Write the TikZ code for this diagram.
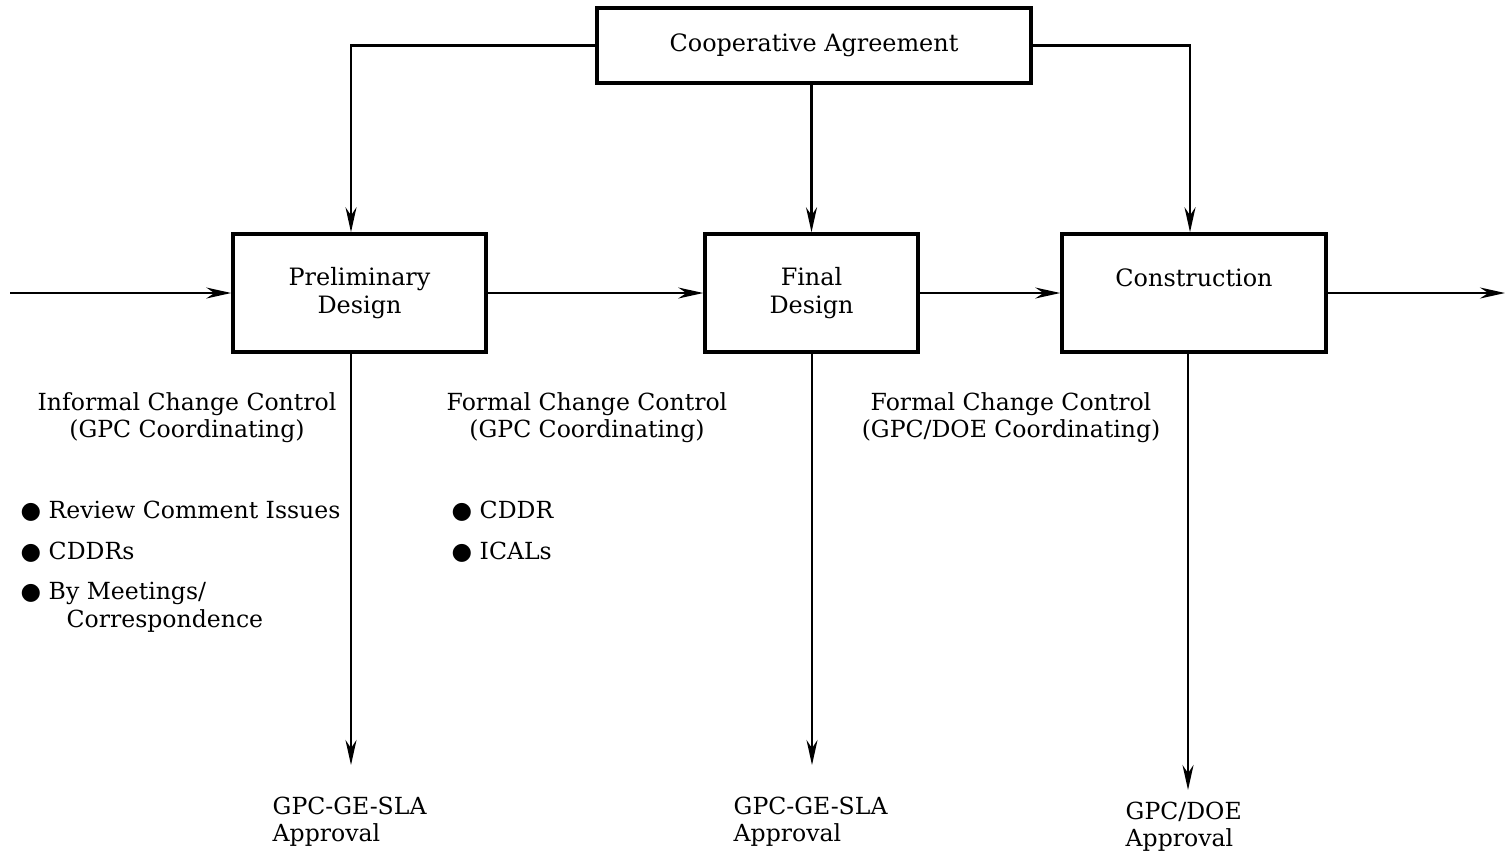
\documentclass[tikz,border=0pt]{standalone}
\usepackage{fontspec}
\setmainfont{DejaVu Serif}
\newfontfamily\dotfont{DejaVu Sans}
\usepackage{tikz}
\usetikzlibrary{arrows.meta}
\usetikzlibrary{positioning}

\newcommand{\bul}{{\dotfont\char"25CF}\ }

\tikzset{
  phase/.style={draw=black, line width=1pt, rectangle, minimum height=1.18cm,
                align=center, font=\fontsize{6.8}{8}\selectfont},
  note/.style={inner sep=0pt, font=\fontsize{6.7}{7.7}\selectfont},
  conn/.style={line width=0.65pt}
}

\begin{document}
\begin{tikzpicture}
\useasboundingbox (0,0) rectangle (15.05,-8.51);
%\draw[gray!30, step=1] (0,0) grid (15.05,-8.51);
\begin{scope}
    \node[phase, minimum width=4.34cm, minimum height=0.75cm] (coop) at (8.14,-0.455) {Cooperative Agreement};
    \node[phase, minimum width=2.53cm] (prelim) at (3.595,-2.93) {Preliminary\\Design};
    \node[phase, minimum width=2.13cm] (final) at (8.115,-2.93) {Final\\Design};
    \node[phase, minimum width=2.64cm, text depth=0.3cm] (constr) at (11.94,-2.93) {Construction};

    \coordinate (in) at (0.1,-2.93);
    \coordinate (out) at (15.05,-2.93);
    \coordinate (d1) at (3.51,-7.65);
    \coordinate (d2) at (8.12,-7.65);
    \coordinate (d3) at (11.88,-7.9);

    \node[note, align=center, anchor=north] (ctrl1) at (1.87,-3.92) {Informal Change Control\\(GPC Coordinating)};
    \node[note, align=center, anchor=north] (ctrl2) at (5.87,-3.92) {Formal Change Control\\(GPC Coordinating)};
    \node[note, align=center, anchor=north] (ctrl3) at (10.11,-3.92) {Formal Change Control\\(GPC/DOE Coordinating)};

    \node[note, anchor=base west] (b1) at (0.2,-5.18) {\bul Review Comment Issues};
    \node[note, anchor=base west] (b2) at (0.2,-5.59) {\bul CDDRs};
    % base of a two line node is the last line
    \node[note, align=left, anchor=base west] (b3) at (0.2,-6.27) {\bul By Meetings/\\\hspace{4.6mm}Correspondence};
    \node[note, anchor=base west] (c1) at (4.51,-5.18) {\bul CDDR};
    \node[note, anchor=base west] (c2) at (4.51,-5.59) {\bul ICALs};

    \node[note, align=left, anchor=north west] (appr1) at (2.72,-7.96) {GPC-GE-SLA\\Approval};
    \node[note, align=left, anchor=north west] (appr2) at (7.33,-7.96) {GPC-GE-SLA\\Approval};
    \node[note, align=left, anchor=north west] (appr3) at (11.25,-8.01) {GPC/DOE\\Approval};
\end{scope}

\begin{scope}[>={Stealth[length=2.5mm, width=1.1mm]}, conn]
    \draw[->] (coop.west) -| (d1 |- prelim.north);
    \draw[->] (final.north |- coop.south) -- (final.north);
    \draw[->] (coop.east) -| ([xshift=-0.04cm]constr.north);

    \draw[->] (in) -- (prelim.west);
    \draw[->] (prelim.east) -- (final.west);
    \draw[->] (final.east) -- (constr.west);
    \draw[->] (constr.east) -- (out);

    \draw[->] (d1 |- prelim.south) -- (d1);
    \draw[->] (d2 |- final.south) -- (d2);
    \draw[->] (d3 |- constr.south) -- (d3);
\end{scope}
\end{tikzpicture}
\end{document}
